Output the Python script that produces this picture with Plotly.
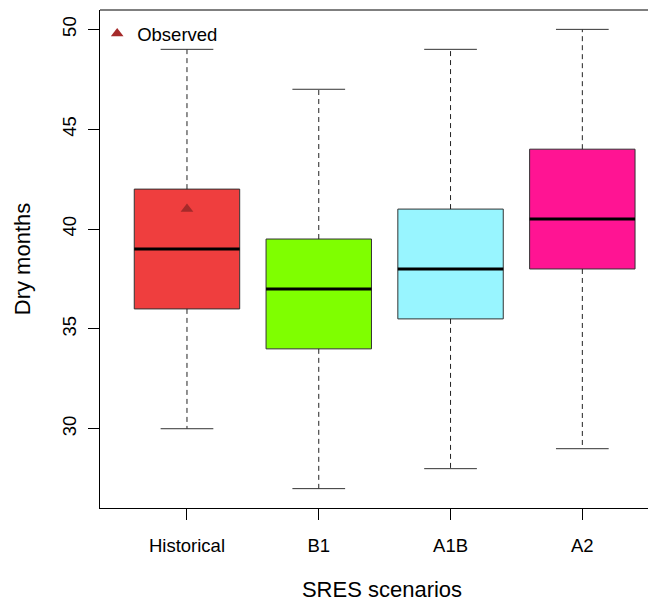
import plotly.graph_objects as go

# ---- data ----
scenarios = ["Historical", "B1", "A1B", "A2"]
lower_whisker = [30, 27, 28, 29]
q1 = [36, 34, 35.5, 38]
median = [39, 37, 38, 40.5]
q3 = [42, 39.5, 41, 44]
upper_whisker = [49, 47, 49, 50]
box_colors = ["#EF3E3E", "#7FFF00", "#98F5FF", "#FF1493"]
observed_scenario = ["Historical"]
observed_value = [41]
y_ticks = [30, 35, 40, 45, 50]

FONT = "Liberation Sans, Arial, sans-serif"
pos = list(range(1, len(scenarios) + 1))
BOXW = 0.8
CAPW = 0.4

fig = go.Figure()

# boxes
fig.add_trace(go.Bar(
    x=pos, base=q1, y=[b - a for a, b in zip(q1, q3)], width=BOXW,
    marker=dict(color=box_colors, line=dict(color="#333333", width=1)),
    showlegend=False, hoverinfo="skip"))

# whiskers (dashed)
wx, wy = [], []
for p, lo, a, b, hi in zip(pos, lower_whisker, q1, q3, upper_whisker):
    wx += [p, p, None, p, p, None]
    wy += [b, hi, None, a, lo, None]
fig.add_trace(go.Scatter(x=wx, y=wy, mode="lines",
                         line=dict(color="#222222", width=1, dash="5px,4px"),
                         showlegend=False, hoverinfo="skip"))

# caps
cx, cy = [], []
for p, lo, hi in zip(pos, lower_whisker, upper_whisker):
    cx += [p - CAPW / 2, p + CAPW / 2, None, p - CAPW / 2, p + CAPW / 2, None]
    cy += [hi, hi, None, lo, lo, None]
fig.add_trace(go.Scatter(x=cx, y=cy, mode="lines",
                         line=dict(color="#333333", width=1),
                         showlegend=False, hoverinfo="skip"))

# medians
mx, my = [], []
for p, m in zip(pos, median):
    mx += [p - BOXW / 2, p + BOXW / 2, None]
    my += [m, m, None]
fig.add_trace(go.Scatter(x=mx, y=my, mode="lines",
                         line=dict(color="black", width=3),
                         showlegend=False, hoverinfo="skip"))

# observed
fig.add_trace(go.Scatter(
    x=[pos[scenarios.index(s)] for s in observed_scenario], y=observed_value,
    mode="markers", name="Observed",
    marker=dict(symbol="triangle-up", size=11, color="#A52A2A")))

W, H = 656, 603
# the page body adds an 8px offset; margins compensate for it
L, T, B, R = 91.5, 1.7, 103.3, 0
px_per_unit = 131.9
x0 = 0.34
x1 = x0 + (W - L - R) / px_per_unit

fig.update_layout(
    width=W, height=H,
    margin=dict(l=L, r=R, t=T, b=B, pad=0, autoexpand=False),
    paper_bgcolor="white", plot_bgcolor="white",
    font=dict(family=FONT, size=18.5, color="black"),
    barmode="overlay",
    showlegend=True,
    legend=dict(x=-0.005, y=0.99, xanchor="left", yanchor="top",
                bgcolor="rgba(0,0,0,0)", font=dict(size=18.5),
                itemwidth=30, tracegroupgap=0),
    xaxis=dict(range=[x0, x1], tickvals=pos, ticktext=scenarios,
               automargin=False,
               showgrid=False, zeroline=False, showline=True,
               linecolor="black", linewidth=1,
               ticks="outside", ticklen=11, tickcolor="black",
               ticklabelstandoff=10,
               title=dict(text="SRES scenarios", standoff=26)),
    yaxis=dict(range=[26.03, 50.97], tickvals=y_ticks,
               automargin=False,
               showgrid=False, zeroline=False, showline=True,
               linecolor="black", linewidth=1,
               ticks="outside", ticklen=11, tickcolor="black",
               tickangle=-90, ticklabelstandoff=5,
               title=dict(text="Dry months", standoff=21)),
    shapes=[dict(type="line", xref="paper", yref="paper",
                 x0=0, x1=1, y0=1, y1=1,
                 line=dict(color="black", width=1))],
)

fig.write_html("out.html")
